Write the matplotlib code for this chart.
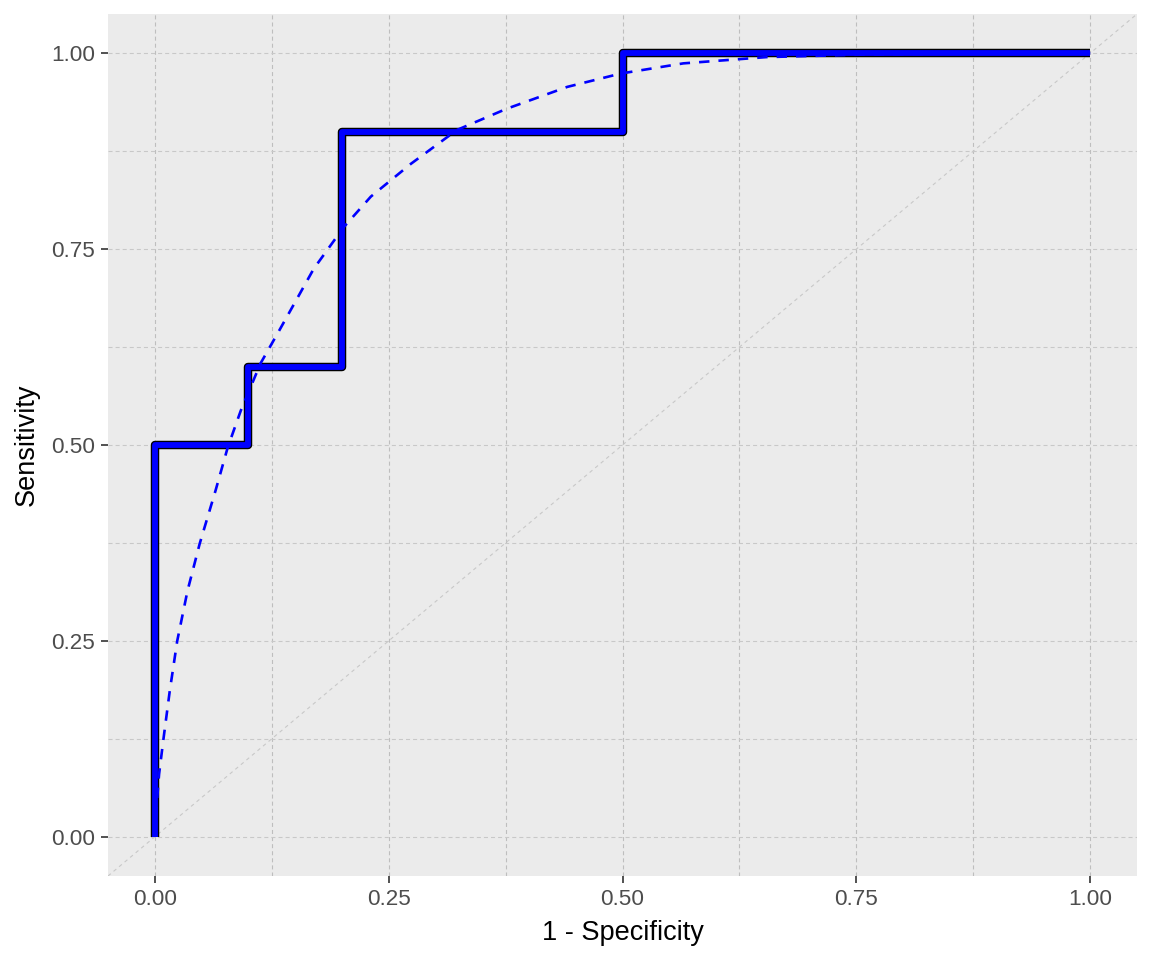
import matplotlib
matplotlib.use("Agg")
import matplotlib.pyplot as plt
from matplotlib.ticker import FixedLocator

plt.rcParams['font.family'] = ['Liberation Sans', 'DejaVu Sans']
plt.rcParams['lines.scale_dashes'] = False

# Empirical ROC (step) curve
fpr_emp = [0.0, 0.0, 0.1, 0.1, 0.2, 0.2, 0.5, 0.5, 1.0]
sens_emp = [0.0, 0.5, 0.5, 0.6, 0.6, 0.9, 0.9, 1.0, 1.0]

# Smoothed (fitted) ROC curve
fpr_fit = [0.0, 0.002, 0.0046, 0.0093, 0.016, 0.024, 0.035, 0.048, 0.065, 0.078,
           0.092, 0.113, 0.133, 0.170, 0.202, 0.231, 0.274, 0.323, 0.376, 0.441,
           0.498, 0.565, 0.654, 0.75, 0.85, 1.0]
sens_fit = [0.0, 0.04, 0.08, 0.125, 0.186, 0.25, 0.314, 0.374, 0.442, 0.497,
            0.544, 0.604, 0.646, 0.725, 0.778, 0.817, 0.859, 0.902, 0.929, 0.957,
            0.974, 0.987, 0.995, 0.998, 0.9995, 1.0]

ticks = [0.0, 0.25, 0.5, 0.75, 1.0]
tick_labels = ["0.00", "0.25", "0.50", "0.75", "1.00"]
minor_ticks = [0.125, 0.375, 0.625, 0.875]

fig = plt.figure(figsize=(11.52, 9.6), dpi=100)
ax = fig.add_axes([108/1152, 1 - 876/960, (1137 - 108)/1152, (876 - 14)/960])
ax.set_facecolor('#EBEBEB')
for s in ax.spines.values():
    s.set_visible(False)

ax.set_xlim(-0.05, 1.05)
ax.set_ylim(-0.05, 1.05)
ax.xaxis.set_major_locator(FixedLocator(ticks))
ax.yaxis.set_major_locator(FixedLocator(ticks))
ax.xaxis.set_minor_locator(FixedLocator(minor_ticks))
ax.yaxis.set_minor_locator(FixedLocator(minor_ticks))
ax.set_xticklabels(tick_labels)
ax.set_yticklabels(tick_labels)

grid_dash = (0, (2.9, 2.2))
ax.grid(which='both', axis='x', color='#BEBEBE', linewidth=0.8, linestyle=grid_dash)
ax.grid(which='both', axis='y', color='#C8C8C8', linewidth=0.8, linestyle=grid_dash)
ax.set_axisbelow(True)

ax.tick_params(which='major', length=5.0, width=1.2, color='#333333',
               labelsize=16.2, labelcolor='#4D4D4D', pad=4.5)
ax.tick_params(which='minor', length=0)

# diagonal reference line
ax.axline((0, 0), (1, 1), color='#C8C8C8', linewidth=0.8, linestyle=(0, (2.6, 2.6)), zorder=1)

# empirical ROC: black outline, blue inner
ax.plot(fpr_emp, sens_emp, color='black', linewidth=6.1, solid_joinstyle='round',
        solid_capstyle='butt', zorder=3)
ax.plot(fpr_emp, sens_emp, color='#0000FF', linewidth=4.2, solid_joinstyle='round',
        solid_capstyle='butt', zorder=4)

# fitted smooth ROC
ax.plot(fpr_fit, sens_fit, color='#0000FF', linewidth=1.9, linestyle=(0, (7.5, 6.5)),
        zorder=5)

ax.set_xlabel('1 - Specificity', fontsize=19.5, color='black', labelpad=7)
ax.set_ylabel('Sensitivity', fontsize=19.5, color='black', labelpad=8)

fig.savefig('out.png', dpi=100, facecolor='white')
